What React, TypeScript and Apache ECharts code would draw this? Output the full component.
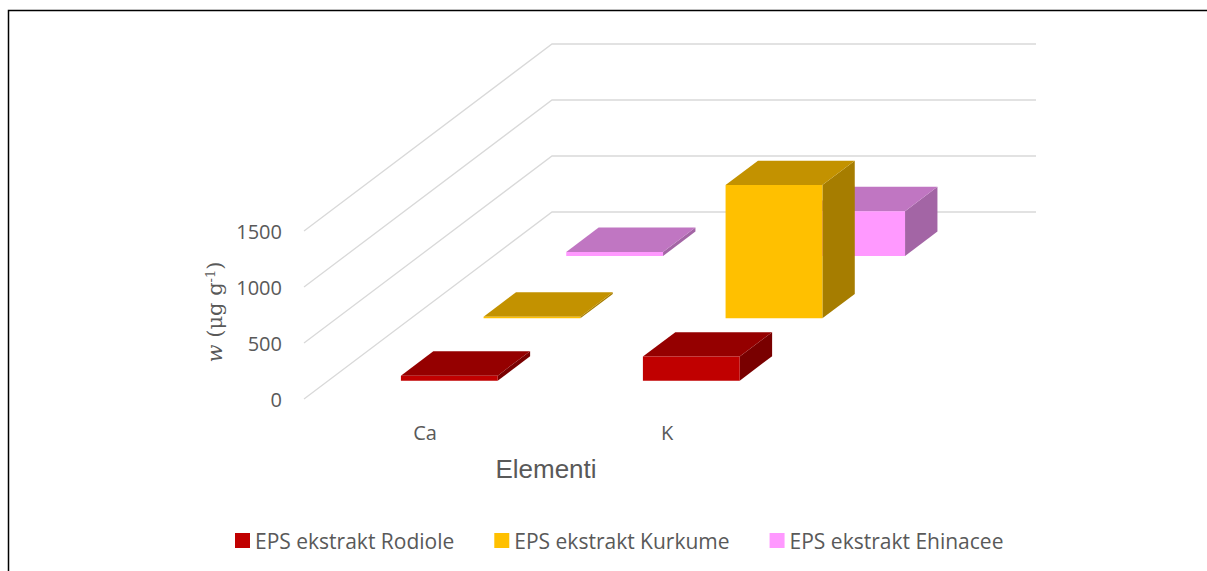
import React, { useEffect, useRef } from 'react';
import * as echarts from 'echarts';

const categories = ['Ca', 'K'];
const seriesNames = ['EPS ekstrakt Rodiole', 'EPS ekstrakt Kurkume', 'EPS ekstrakt Ehinacee'];
const rodiole = [45, 215];
const kurkume = [14, 1190];
const ehinacee = [36, 400];
const yTicks = [0, 500, 1000, 1500];

const palette = [
  { front: '#C00000', top: '#950000', side: '#790000' },
  { front: '#FFC000', top: '#C39200', side: '#A67D00' },
  { front: '#FF99FF', top: '#C076C2', side: '#A365A5' },
];

// oblique projection of the floor depth (px)
const DEPTH_X = 248;
const DEPTH_Y = -187;
const SLOTS = 3;
const BAR_FRONT = 0.294;
const BAR_DEPTH = 0.392;
const BAR_WIDTH = 0.4;

const TEXT = '#595959';
const SANS = '"Open Sans", "Noto Sans", sans-serif';
const SERIF = '"DejaVu Serif", serif';

function makeBarRender(slot: number, colors: { front: string; top: string; side: string }) {
  return (params: any, api: any) => {
    const cat = api.value(0);
    const val = api.value(1);
    const base = api.coord([cat, 0]);
    const top = api.coord([cat, val]);
    const band = api.size([1, 0])[0];
    const w = band * BAR_WIDTH;
    const sx = DEPTH_X / SLOTS;
    const sy = DEPTH_Y / SLOTS;
    const ox = sx * (slot + BAR_FRONT);
    const oy = sy * (slot + BAR_FRONT);
    const dx = sx * BAR_DEPTH;
    const dy = sy * BAR_DEPTH;
    const x0 = base[0] - w / 2 + ox;
    const x1 = base[0] + w / 2 + ox;
    const yb = base[1] + oy;
    const yt = top[1] + oy;
    return {
      type: 'group',
      children: [
        {
          type: 'polygon',
          shape: { points: [[x1, yt], [x1, yb], [x1 + dx, yb + dy], [x1 + dx, yt + dy]] },
          style: { fill: colors.side },
        },
        {
          type: 'polygon',
          shape: { points: [[x0, yt], [x1, yt], [x1 + dx, yt + dy], [x0 + dx, yt + dy]] },
          style: { fill: colors.top },
        },
        {
          type: 'rect',
          shape: { x: x0, y: yt, width: w, height: Math.max(yb - yt, 0) },
          style: { fill: colors.front },
        },
      ],
    };
  };
}

export default function App() {
  const ref = useRef<HTMLDivElement>(null);
  useEffect(() => {
    if (!ref.current) return;
    const chart = echarts.init(ref.current, undefined, { renderer: 'svg' });
    const valuesBySeries = [rodiole, kurkume, ehinacee];
    const barSeries = [2, 1, 0].map((s) => ({
      type: 'custom',
      name: seriesNames[s],
      coordinateSystem: 'cartesian2d',
      itemStyle: { color: palette[s].front },
      data: categories.map((_, i) => [i, valuesBySeries[s][i]]),
      renderItem: makeBarRender(s, palette[s]),
      silent: true,
      z: 3,
    }));
    const option: any = {
      animation: false,
      graphic: [
        {
          type: 'rect',
          silent: true,
          z: -10,
          shape: { x: 8.5, y: 10.5, width: 1400, height: 900 },
          style: { fill: 'rgba(0,0,0,0)', stroke: '#000', lineWidth: 1.5 },
        },
      ],
      grid: { left: 304, right: 419, top: 231, bottom: 172 },
      legend: {
        data: seriesNames,
        left: 230,
        top: 525,
        icon: 'rect',
        itemWidth: 15,
        itemHeight: 15,
        itemGap: 40,
        textStyle: { fontSize: 21, color: TEXT, fontFamily: SANS },
      },
      xAxis: {
        type: 'category',
        data: categories,
        axisLine: { show: false },
        axisTick: { show: false },
        axisLabel: { margin: 23, fontSize: 20, color: TEXT, fontFamily: SANS },
        name: 'Elementi',
        nameLocation: 'middle',
        nameGap: 57,
        nameTextStyle: { fontSize: 26, color: TEXT, fontFamily: '"Liberation Sans", Arial, sans-serif' },
      },
      yAxis: {
        type: 'value',
        min: 0,
        max: 1500,
        interval: 500,
        axisLine: { show: false },
        axisTick: { show: false },
        splitLine: { show: false },
        axisLabel: {
          margin: 22,
          fontSize: 20,
          color: TEXT,
          fontFamily: SANS,
          formatter: (v: number) => String(v),
        },
        name: '{i|w}{n| (μg g}{s|-1}{n|)}',
        nameLocation: 'middle',
        nameRotate: 90,
        nameGap: 79,
        nameTextStyle: {
          color: TEXT,
          fontFamily: SERIF,
          fontSize: 21,
          padding: [0, 0, 0, 6],
          rich: {
            i: { fontStyle: 'italic', fontSize: 21, color: TEXT, fontFamily: SERIF },
            n: { fontSize: 21, color: TEXT, fontFamily: SERIF },
            s: { fontSize: 13, color: TEXT, fontFamily: SERIF, verticalAlign: 'top' },
          },
        },
      },
      series: [
        {
          type: 'custom',
          name: 'grid',
          coordinateSystem: 'cartesian2d',
          silent: true,
          z: 1,
          data: yTicks.map((v) => [0, v]),
          renderItem: (params: any, api: any) => {
            const v = api.value(1);
            const p = api.coord([0, v]);
            const cs = params.coordSys;
            const xL = cs.x;
            const xR = cs.x + cs.width;
            return {
              type: 'polyline',
              shape: {
                points: [
                  [xL, p[1]],
                  [xL + DEPTH_X, p[1] + DEPTH_Y],
                  [xR + DEPTH_X, p[1] + DEPTH_Y],
                ],
              },
              style: { stroke: '#D9D9D9', lineWidth: 1.3, fill: null },
            };
          },
        },
        ...barSeries,
      ],
    };
    chart.setOption(option);
    return () => chart.dispose();
  }, []);
  return (
    <div
      ref={ref}
      style={{ position: 'fixed', left: 0, top: 0, width: 1207, height: 571, background: '#fff' }}
    />
  );
}
